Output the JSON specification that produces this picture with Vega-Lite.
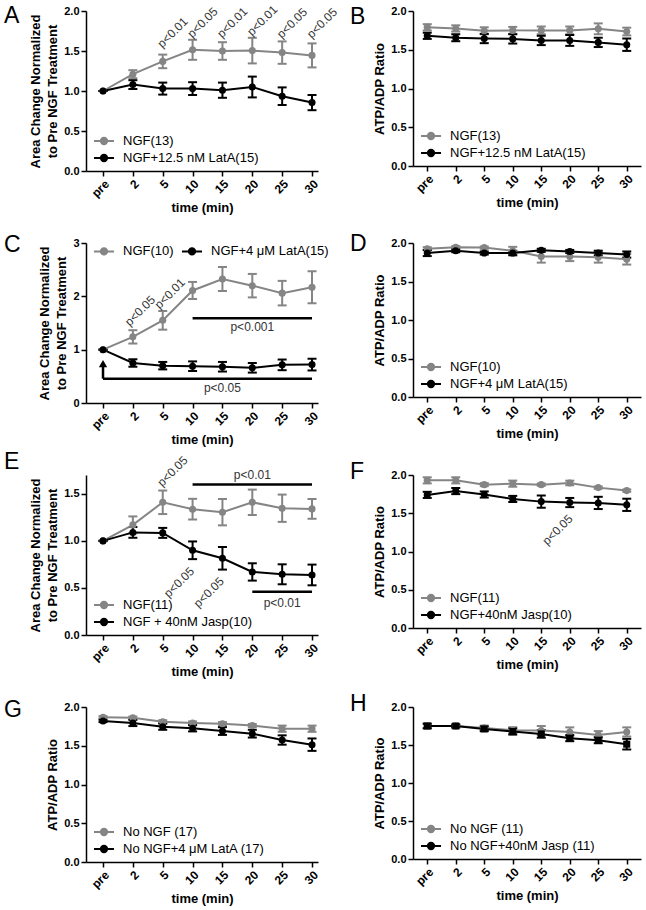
{
"$schema":"https://vega.github.io/schema/vega-lite/v6.json",
"padding":{"left":4,"top":3,"right":4,"bottom":2},
"bounds":"flush",
"columns":2,
"spacing":{"row":72,"column":95},
"resolve":{"scale":{"color":"independent","shape":"independent","x":"independent","y":"independent"},"legend":{"color":"independent","shape":"independent"}},
"config":{
 "font":"Liberation Sans",
 "view":{"stroke":null},
 "axis":{"grid":false,"labelOverlap":false,"domainColor":"#000","domainWidth":1.5,"tickColor":"#000","tickWidth":1.5,"tickSize":5,"labelColor":"#000","labelFontWeight":"bold","labelFontSize":11,"labelPadding":2,"titleColor":"#000","titleFontWeight":"bold","titleFontSize":13,"titlePadding":4,"titleLineHeight":17},
 "axisX":{"labelAngle":-45,"titlePadding":3,"labelFontSize":12},
 "legend":{"labelFontSize":13,"labelColor":"#000","symbolSize":196,"symbolStrokeWidth":2,"symbolOpacity":1,"rowPadding":1,"padding":0,"offset":5,"labelOffset":11,"symbolOffset":5,"labelLimit":300},
 "title":{"fontSize":23,"fontWeight":"normal","color":"#000","anchor":"start","frame":"group","offset":0,"baseline":"alphabetic"},
 "text":{"fontSize":12,"color":"#333"}
},
"datasets":{
"d":[
{"p":"A","s":"NGF(13)","t":"pre","m":1,"e":0},{"p":"A","s":"NGF(13)","t":"2","m":1.21,"e":0.05},{"p":"A","s":"NGF(13)","t":"5","m":1.37,"e":0.085},{"p":"A","s":"NGF(13)","t":"10","m":1.515,"e":0.125},{"p":"A","s":"NGF(13)","t":"15","m":1.5,"e":0.11},{"p":"A","s":"NGF(13)","t":"20","m":1.505,"e":0.16},{"p":"A","s":"NGF(13)","t":"25","m":1.48,"e":0.14},{"p":"A","s":"NGF(13)","t":"30","m":1.445,"e":0.15},
{"p":"A","s":"NGF+12.5 nM LatA(15)","t":"pre","m":1,"e":0},{"p":"A","s":"NGF+12.5 nM LatA(15)","t":"2","m":1.08,"e":0.055},{"p":"A","s":"NGF+12.5 nM LatA(15)","t":"5","m":1.03,"e":0.075},{"p":"A","s":"NGF+12.5 nM LatA(15)","t":"10","m":1.03,"e":0.08},{"p":"A","s":"NGF+12.5 nM LatA(15)","t":"15","m":1.01,"e":0.095},{"p":"A","s":"NGF+12.5 nM LatA(15)","t":"20","m":1.05,"e":0.13},{"p":"A","s":"NGF+12.5 nM LatA(15)","t":"25","m":0.935,"e":0.11},{"p":"A","s":"NGF+12.5 nM LatA(15)","t":"30","m":0.855,"e":0.095},
{"p":"B","s":"NGF(13)","t":"pre","m":1.79,"e":0.04},{"p":"B","s":"NGF(13)","t":"2","m":1.775,"e":0.04},{"p":"B","s":"NGF(13)","t":"5","m":1.745,"e":0.045},{"p":"B","s":"NGF(13)","t":"10","m":1.75,"e":0.045},{"p":"B","s":"NGF(13)","t":"15","m":1.75,"e":0.05},{"p":"B","s":"NGF(13)","t":"20","m":1.75,"e":0.05},{"p":"B","s":"NGF(13)","t":"25","m":1.77,"e":0.07},{"p":"B","s":"NGF(13)","t":"30","m":1.735,"e":0.05},
{"p":"B","s":"NGF+12.5 nM LatA(15)","t":"pre","m":1.68,"e":0.04},{"p":"B","s":"NGF+12.5 nM LatA(15)","t":"2","m":1.655,"e":0.045},{"p":"B","s":"NGF+12.5 nM LatA(15)","t":"5","m":1.645,"e":0.06},{"p":"B","s":"NGF+12.5 nM LatA(15)","t":"10","m":1.64,"e":0.06},{"p":"B","s":"NGF+12.5 nM LatA(15)","t":"15","m":1.62,"e":0.06},{"p":"B","s":"NGF+12.5 nM LatA(15)","t":"20","m":1.62,"e":0.07},{"p":"B","s":"NGF+12.5 nM LatA(15)","t":"25","m":1.595,"e":0.06},{"p":"B","s":"NGF+12.5 nM LatA(15)","t":"30","m":1.565,"e":0.08},
{"p":"C","s":"NGF(10)","t":"pre","m":1,"e":0},{"p":"C","s":"NGF(10)","t":"2","m":1.24,"e":0.125},{"p":"C","s":"NGF(10)","t":"5","m":1.55,"e":0.175},{"p":"C","s":"NGF(10)","t":"10","m":2.11,"e":0.16},{"p":"C","s":"NGF(10)","t":"15","m":2.325,"e":0.225},{"p":"C","s":"NGF(10)","t":"20","m":2.2,"e":0.22},{"p":"C","s":"NGF(10)","t":"25","m":2.06,"e":0.23},{"p":"C","s":"NGF(10)","t":"30","m":2.17,"e":0.3},
{"p":"C","s":"NGF+4 μM LatA(15)","t":"pre","m":1,"e":0},{"p":"C","s":"NGF+4 μM LatA(15)","t":"2","m":0.75,"e":0.07},{"p":"C","s":"NGF+4 μM LatA(15)","t":"5","m":0.7,"e":0.07},{"p":"C","s":"NGF+4 μM LatA(15)","t":"10","m":0.69,"e":0.09},{"p":"C","s":"NGF+4 μM LatA(15)","t":"15","m":0.68,"e":0.09},{"p":"C","s":"NGF+4 μM LatA(15)","t":"20","m":0.66,"e":0.09},{"p":"C","s":"NGF+4 μM LatA(15)","t":"25","m":0.715,"e":0.1},{"p":"C","s":"NGF+4 μM LatA(15)","t":"30","m":0.72,"e":0.11},
{"p":"D","s":"NGF(10)","t":"pre","m":1.925,"e":0.02},{"p":"D","s":"NGF(10)","t":"2","m":1.945,"e":0.015},{"p":"D","s":"NGF(10)","t":"5","m":1.94,"e":0.015},{"p":"D","s":"NGF(10)","t":"10","m":1.9,"e":0.05},{"p":"D","s":"NGF(10)","t":"15","m":1.825,"e":0.08},{"p":"D","s":"NGF(10)","t":"20","m":1.825,"e":0.06},{"p":"D","s":"NGF(10)","t":"25","m":1.815,"e":0.07},{"p":"D","s":"NGF(10)","t":"30","m":1.79,"e":0.07},
{"p":"D","s":"NGF+4 μM LatA(15)","t":"pre","m":1.87,"e":0.04},{"p":"D","s":"NGF+4 μM LatA(15)","t":"2","m":1.9,"e":0.02},{"p":"D","s":"NGF+4 μM LatA(15)","t":"5","m":1.87,"e":0.02},{"p":"D","s":"NGF+4 μM LatA(15)","t":"10","m":1.87,"e":0.03},{"p":"D","s":"NGF+4 μM LatA(15)","t":"15","m":1.905,"e":0.02},{"p":"D","s":"NGF+4 μM LatA(15)","t":"20","m":1.89,"e":0.02},{"p":"D","s":"NGF+4 μM LatA(15)","t":"25","m":1.87,"e":0.03},{"p":"D","s":"NGF+4 μM LatA(15)","t":"30","m":1.85,"e":0.04},
{"p":"E","s":"NGF(11)","t":"pre","m":1,"e":0},{"p":"E","s":"NGF(11)","t":"2","m":1.17,"e":0.09},{"p":"E","s":"NGF(11)","t":"5","m":1.41,"e":0.125},{"p":"E","s":"NGF(11)","t":"10","m":1.337,"e":0.11},{"p":"E","s":"NGF(11)","t":"15","m":1.305,"e":0.14},{"p":"E","s":"NGF(11)","t":"20","m":1.41,"e":0.135},{"p":"E","s":"NGF(11)","t":"25","m":1.347,"e":0.145},{"p":"E","s":"NGF(11)","t":"30","m":1.34,"e":0.105},
{"p":"E","s":"NGF + 40nM Jasp(10)","t":"pre","m":1,"e":0},{"p":"E","s":"NGF + 40nM Jasp(10)","t":"2","m":1.09,"e":0.057},{"p":"E","s":"NGF + 40nM Jasp(10)","t":"5","m":1.085,"e":0.053},{"p":"E","s":"NGF + 40nM Jasp(10)","t":"10","m":0.9,"e":0.094},{"p":"E","s":"NGF + 40nM Jasp(10)","t":"15","m":0.815,"e":0.12},{"p":"E","s":"NGF + 40nM Jasp(10)","t":"20","m":0.67,"e":0.092},{"p":"E","s":"NGF + 40nM Jasp(10)","t":"25","m":0.645,"e":0.106},{"p":"E","s":"NGF + 40nM Jasp(10)","t":"30","m":0.638,"e":0.11},
{"p":"F","s":"NGF(11)","t":"pre","m":1.93,"e":0.04},{"p":"F","s":"NGF(11)","t":"2","m":1.93,"e":0.04},{"p":"F","s":"NGF(11)","t":"5","m":1.874,"e":0.02},{"p":"F","s":"NGF(11)","t":"10","m":1.887,"e":0.04},{"p":"F","s":"NGF(11)","t":"15","m":1.874,"e":0.015},{"p":"F","s":"NGF(11)","t":"20","m":1.896,"e":0.03},{"p":"F","s":"NGF(11)","t":"25","m":1.835,"e":0.015},{"p":"F","s":"NGF(11)","t":"30","m":1.796,"e":0.015},
{"p":"F","s":"NGF+40nM Jasp(10)","t":"pre","m":1.74,"e":0.04},{"p":"F","s":"NGF+40nM Jasp(10)","t":"2","m":1.79,"e":0.04},{"p":"F","s":"NGF+40nM Jasp(10)","t":"5","m":1.745,"e":0.04},{"p":"F","s":"NGF+40nM Jasp(10)","t":"10","m":1.687,"e":0.04},{"p":"F","s":"NGF+40nM Jasp(10)","t":"15","m":1.652,"e":0.08},{"p":"F","s":"NGF+40nM Jasp(10)","t":"20","m":1.64,"e":0.06},{"p":"F","s":"NGF+40nM Jasp(10)","t":"25","m":1.635,"e":0.08},{"p":"F","s":"NGF+40nM Jasp(10)","t":"30","m":1.61,"e":0.08},
{"p":"G","s":"No NGF (17)","t":"pre","m":1.867,"e":0.015},{"p":"G","s":"No NGF (17)","t":"2","m":1.862,"e":0.015},{"p":"G","s":"No NGF (17)","t":"5","m":1.81,"e":0.02},{"p":"G","s":"No NGF (17)","t":"10","m":1.794,"e":0.02},{"p":"G","s":"No NGF (17)","t":"15","m":1.785,"e":0.02},{"p":"G","s":"No NGF (17)","t":"20","m":1.76,"e":0.02},{"p":"G","s":"No NGF (17)","t":"25","m":1.72,"e":0.04},{"p":"G","s":"No NGF (17)","t":"30","m":1.72,"e":0.04},
{"p":"G","s":"No NGF+4 μM LatA (17)","t":"pre","m":1.82,"e":0.015},{"p":"G","s":"No NGF+4 μM LatA (17)","t":"2","m":1.794,"e":0.04},{"p":"G","s":"No NGF+4 μM LatA (17)","t":"5","m":1.746,"e":0.04},{"p":"G","s":"No NGF+4 μM LatA (17)","t":"10","m":1.725,"e":0.04},{"p":"G","s":"No NGF+4 μM LatA (17)","t":"15","m":1.69,"e":0.05},{"p":"G","s":"No NGF+4 μM LatA (17)","t":"20","m":1.656,"e":0.05},{"p":"G","s":"No NGF+4 μM LatA (17)","t":"25","m":1.574,"e":0.06},{"p":"G","s":"No NGF+4 μM LatA (17)","t":"30","m":1.514,"e":0.08},
{"p":"H","s":"No NGF (11)","t":"pre","m":1.751,"e":0.03},{"p":"H","s":"No NGF (11)","t":"2","m":1.751,"e":0.02},{"p":"H","s":"No NGF (11)","t":"5","m":1.725,"e":0.03},{"p":"H","s":"No NGF (11)","t":"10","m":1.694,"e":0.04},{"p":"H","s":"No NGF (11)","t":"15","m":1.69,"e":0.06},{"p":"H","s":"No NGF (11)","t":"20","m":1.672,"e":0.06},{"p":"H","s":"No NGF (11)","t":"25","m":1.633,"e":0.05},{"p":"H","s":"No NGF (11)","t":"30","m":1.672,"e":0.06},
{"p":"H","s":"No NGF+40nM Jasp (11)","t":"pre","m":1.75,"e":0.03},{"p":"H","s":"No NGF+40nM Jasp (11)","t":"2","m":1.75,"e":0.02},{"p":"H","s":"No NGF+40nM Jasp (11)","t":"5","m":1.712,"e":0.03},{"p":"H","s":"No NGF+40nM Jasp (11)","t":"10","m":1.677,"e":0.04},{"p":"H","s":"No NGF+40nM Jasp (11)","t":"15","m":1.646,"e":0.05},{"p":"H","s":"No NGF+40nM Jasp (11)","t":"20","m":1.59,"e":0.04},{"p":"H","s":"No NGF+40nM Jasp (11)","t":"25","m":1.563,"e":0.04},{"p":"H","s":"No NGF+40nM Jasp (11)","t":"30","m":1.511,"e":0.07}
],
"rot":[
{"p":"A","k":"a","t":"5","y":1.73,"txt":"p<0.01"},{"p":"A","k":"a","t":"10","y":1.855,"txt":"p<0.05"},{"p":"A","k":"a","t":"15","y":1.855,"txt":"p<0.01"},{"p":"A","k":"a","t":"20","y":1.88,"txt":"p<0.01"},{"p":"A","k":"a","t":"25","y":1.85,"txt":"p<0.05"},{"p":"A","k":"a","t":"30","y":1.85,"txt":"p<0.05"},
{"p":"C","k":"a","t":"2","y":1.73,"txt":"p<0.05"},{"p":"C","k":"a","t":"5","y":2.05,"txt":"p<0.01"},
{"p":"E","k":"a","t":"5","y":1.74,"txt":"p<0.05"},
{"p":"E","k":"b","t":"5","y":0.56,"txt":"p<0.05"},{"p":"E","k":"b","t":"10","y":0.453,"txt":"p<0.05"},
{"p":"F","k":"b","t":"15","y":1.283,"txt":"p<0.05"}
],
"bars":[
{"p":"C","t":"10","t2":"30","y":1.59},{"p":"C","t":"pre","t2":"30","y":0.456},
{"p":"E","t":"10","t2":"30","y":1.6},{"p":"E","t":"20","t2":"30","y":0.46}
],
"lbl":[
{"p":"C","t":"20","y":1.43,"txt":"p<0.001"},{"p":"C","t":"15","y":0.28,"txt":"p<0.05"},
{"p":"E","t":"20","y":1.7,"txt":"p<0.01"},{"p":"E","t":"25","y":0.337,"txt":"p<0.01"}
],
"arr":[{"p":"C","t":"pre","y":0.456,"y2":0.7}]
},
"concat":[
{"width":232,"height":160,"title":{"text":"A","dx":-82,"dy":29},
 "layer":[
  {"data":{"name":"d"},"transform":[{"filter":"datum.p==='A'"}],
   "encoding":{
    "x":{"field":"t","type":"ordinal","scale":{"type":"point","domain":["pre","2","5","10","15","20","25","30"],"padding":0.385,"align":0.74},"axis":{"title":"time (min)"}},
    "y":{"field":"m","type":"quantitative","scale":{"domain":[0,2],"nice":false},"axis":{"values":[0,0.5,1,1.5,2],"format":".1f","title":["Area Change Normalized","to Pre NGF Treatment"]}},
    "color":{"field":"s","type":"nominal","scale":{"domain":["NGF(13)","NGF+12.5 nM LatA(15)"],"range":["#858585","#000000"]},
     "legend":{"title":null,"orient":"bottom-left","symbolType":"M-1.43,0L1.43,0M0.45,0A0.45,0.45,0,1,1,-0.45,0A0.45,0.45,0,1,1,0.45,0Z"}}
   },
   "layer":[
    {"mark":{"type":"errorbar","ticks":{"size":9,"opacity":1},"rule":{"opacity":1},"thickness":2},"encoding":{"yError":{"field":"e"}}},
    {"mark":{"type":"line","strokeWidth":2},"encoding":{"order":{"value":null}}},
    {"mark":{"type":"point","filled":true,"size":50,"opacity":1}}
   ]},
  {"data":{"name":"rot"},"transform":[{"filter":"datum.p==='A'"}],"mark":{"type":"text","angle":315,"dx":7,"dy":7},"encoding":{"x":{"field":"t","type":"ordinal"},"y":{"field":"y","type":"quantitative","axis":{"values":[0,0.5,1,1.5,2],"format":".1f","title":["Area Change Normalized","to Pre NGF Treatment"]}},"text":{"field":"txt"}}}
 ]},
{"width":228,"height":155,"title":{"text":"B","dx":-63,"dy":28},
 "layer":[
  {"data":{"name":"d"},"transform":[{"filter":"datum.p==='B'"}],
   "encoding":{
    "x":{"field":"t","type":"ordinal","scale":{"type":"point","domain":["pre","2","5","10","15","20","25","30"],"padding":0.5},"axis":{"title":"time (min)"}},
    "y":{"field":"m","type":"quantitative","scale":{"domain":[0,2],"nice":false},"axis":{"values":[0,0.5,1,1.5,2],"format":".1f","title":"ATP/ADP Ratio"}},
    "color":{"field":"s","type":"nominal","scale":{"domain":["NGF(13)","NGF+12.5 nM LatA(15)"],"range":["#858585","#000000"]},
     "legend":{"title":null,"orient":"bottom-left","symbolType":"M-1.43,0L1.43,0M0.45,0A0.45,0.45,0,1,1,-0.45,0A0.45,0.45,0,1,1,0.45,0Z"}}
   },
   "layer":[
    {"mark":{"type":"errorbar","ticks":{"size":9,"opacity":1},"rule":{"opacity":1},"thickness":2},"encoding":{"yError":{"field":"e"}}},
    {"mark":{"type":"line","strokeWidth":2},"encoding":{"order":{"value":null}}},
    {"mark":{"type":"point","filled":true,"size":50,"opacity":1}}
   ]}
 ]},
{"width":232,"height":160,"title":{"text":"C","dx":-82,"dy":24},
 "layer":[
  {"data":{"name":"d"},"transform":[{"filter":"datum.p==='C'"}],
   "encoding":{
    "x":{"field":"t","type":"ordinal","scale":{"type":"point","domain":["pre","2","5","10","15","20","25","30"],"padding":0.385,"align":0.74},"axis":{"title":"time (min)"}},
    "y":{"field":"m","type":"quantitative","scale":{"domain":[0,3],"nice":false},"axis":{"values":[0,1,2,3],"format":"d","title":["Area Change Normalized","to Pre NGF Treatment"]}},
    "color":{"field":"s","type":"nominal","scale":{"domain":["NGF(10)","NGF+4 μM LatA(15)"],"range":["#858585","#000000"]},
     "legend":{"title":null,"orient":"top-left","direction":"horizontal","offset":0,"symbolOffset":10,"columnPadding":0,"symbolType":"M-1.43,0L1.43,0M0.45,0A0.45,0.45,0,1,1,-0.45,0A0.45,0.45,0,1,1,0.45,0Z"}}
   },
   "layer":[
    {"mark":{"type":"errorbar","ticks":{"size":9,"opacity":1},"rule":{"opacity":1},"thickness":2},"encoding":{"yError":{"field":"e"}}},
    {"mark":{"type":"line","strokeWidth":2},"encoding":{"order":{"value":null}}},
    {"mark":{"type":"point","filled":true,"size":50,"opacity":1}}
   ]},
  {"data":{"name":"rot"},"transform":[{"filter":"datum.p==='C'"}],"mark":{"type":"text","angle":315,"dx":5,"dy":5},"encoding":{"x":{"field":"t","type":"ordinal"},"y":{"field":"y","type":"quantitative","axis":{"values":[0,1,2,3],"format":"d","title":["Area Change Normalized","to Pre NGF Treatment"]}},"text":{"field":"txt"}}},
  {"data":{"name":"bars"},"transform":[{"filter":"datum.p==='C'"}],"mark":{"type":"rule","strokeWidth":2.5,"color":"#000"},"encoding":{"x":{"field":"t","type":"ordinal"},"x2":{"field":"t2"},"y":{"field":"y","type":"quantitative","axis":{"values":[0,1,2,3],"format":"d","title":["Area Change Normalized","to Pre NGF Treatment"]}}}},
  {"data":{"name":"lbl"},"transform":[{"filter":"datum.p==='C'"}],"mark":{"type":"text"},"encoding":{"x":{"field":"t","type":"ordinal"},"y":{"field":"y","type":"quantitative","axis":{"values":[0,1,2,3],"format":"d","title":["Area Change Normalized","to Pre NGF Treatment"]}},"text":{"field":"txt"}}},
  {"data":{"name":"arr"},"mark":{"type":"rule","strokeWidth":2.5,"color":"#000"},"encoding":{"x":{"field":"t","type":"ordinal"},"y":{"field":"y","type":"quantitative","axis":{"values":[0,1,2,3],"format":"d","title":["Area Change Normalized","to Pre NGF Treatment"]}},"y2":{"field":"y2"}}},
  {"data":{"name":"arr"},"mark":{"type":"point","shape":"triangle-up","filled":true,"size":70,"color":"#000","opacity":1,"yOffset":-2},"encoding":{"x":{"field":"t","type":"ordinal"},"y":{"field":"y2","type":"quantitative","axis":{"values":[0,1,2,3],"format":"d","title":["Area Change Normalized","to Pre NGF Treatment"]}}}}
 ]},
{"width":228,"height":154,"title":{"text":"D","dx":-63,"dy":23},
 "layer":[
  {"data":{"name":"d"},"transform":[{"filter":"datum.p==='D'"}],
   "encoding":{
    "x":{"field":"t","type":"ordinal","scale":{"type":"point","domain":["pre","2","5","10","15","20","25","30"],"padding":0.5},"axis":{"title":"time (min)"}},
    "y":{"field":"m","type":"quantitative","scale":{"domain":[0,2],"nice":false},"axis":{"values":[0,0.5,1,1.5,2],"format":".1f","title":"ATP/ADP Ratio"}},
    "color":{"field":"s","type":"nominal","scale":{"domain":["NGF(10)","NGF+4 μM LatA(15)"],"range":["#858585","#000000"]},
     "legend":{"title":null,"orient":"bottom-left","symbolType":"M-1.43,0L1.43,0M0.45,0A0.45,0.45,0,1,1,-0.45,0A0.45,0.45,0,1,1,0.45,0Z"}}
   },
   "layer":[
    {"mark":{"type":"errorbar","ticks":{"size":9,"opacity":1},"rule":{"opacity":1},"thickness":2},"encoding":{"yError":{"field":"e"}}},
    {"mark":{"type":"line","strokeWidth":2},"encoding":{"order":{"value":null}}},
    {"mark":{"type":"point","filled":true,"size":50,"opacity":1}}
   ]}
 ]},
{"width":232,"height":160,"title":{"text":"E","dx":-82,"dy":24},
 "layer":[
  {"data":{"name":"d"},"transform":[{"filter":"datum.p==='E'"}],
   "encoding":{
    "x":{"field":"t","type":"ordinal","scale":{"type":"point","domain":["pre","2","5","10","15","20","25","30"],"padding":0.385,"align":0.74},"axis":{"title":"time (min)"}},
    "y":{"field":"m","type":"quantitative","scale":{"domain":[0,1.7],"nice":false},"axis":{"values":[0,0.5,1,1.5],"format":".1f","title":["Area Change Normalized","to Pre NGF Treatment"]}},
    "color":{"field":"s","type":"nominal","scale":{"domain":["NGF(11)","NGF + 40nM Jasp(10)"],"range":["#858585","#000000"]},
     "legend":{"title":null,"orient":"bottom-left","symbolType":"M-1.43,0L1.43,0M0.45,0A0.45,0.45,0,1,1,-0.45,0A0.45,0.45,0,1,1,0.45,0Z"}}
   },
   "layer":[
    {"mark":{"type":"errorbar","ticks":{"size":9,"opacity":1},"rule":{"opacity":1},"thickness":2},"encoding":{"yError":{"field":"e"}}},
    {"mark":{"type":"line","strokeWidth":2},"encoding":{"order":{"value":null}}},
    {"mark":{"type":"point","filled":true,"size":50,"opacity":1}}
   ]},
  {"data":{"name":"rot"},"transform":[{"filter":"datum.p==='E' && datum.k==='a'"}],"mark":{"type":"text","angle":315,"dx":7,"dy":7},"encoding":{"x":{"field":"t","type":"ordinal"},"y":{"field":"y","type":"quantitative","axis":{"values":[0,0.5,1,1.5],"format":".1f","title":["Area Change Normalized","to Pre NGF Treatment"]}},"text":{"field":"txt"}}},
  {"data":{"name":"rot"},"transform":[{"filter":"datum.p==='E' && datum.k==='b'"}],"mark":{"type":"text","angle":315,"dx":11.5,"dy":11.5},"encoding":{"x":{"field":"t","type":"ordinal"},"y":{"field":"y","type":"quantitative","axis":{"values":[0,0.5,1,1.5],"format":".1f","title":["Area Change Normalized","to Pre NGF Treatment"]}},"text":{"field":"txt"}}},
  {"data":{"name":"bars"},"transform":[{"filter":"datum.p==='E'"}],"mark":{"type":"rule","strokeWidth":2.5,"color":"#000"},"encoding":{"x":{"field":"t","type":"ordinal"},"x2":{"field":"t2"},"y":{"field":"y","type":"quantitative","axis":{"values":[0,0.5,1,1.5],"format":".1f","title":["Area Change Normalized","to Pre NGF Treatment"]}}}},
  {"data":{"name":"lbl"},"transform":[{"filter":"datum.p==='E'"}],"mark":{"type":"text"},"encoding":{"x":{"field":"t","type":"ordinal"},"y":{"field":"y","type":"quantitative","axis":{"values":[0,0.5,1,1.5],"format":".1f","title":["Area Change Normalized","to Pre NGF Treatment"]}},"text":{"field":"txt"}}}
 ]},
{"width":228,"height":153,"title":{"text":"F","dx":-63,"dy":19},
 "layer":[
  {"data":{"name":"d"},"transform":[{"filter":"datum.p==='F'"}],
   "encoding":{
    "x":{"field":"t","type":"ordinal","scale":{"type":"point","domain":["pre","2","5","10","15","20","25","30"],"padding":0.5},"axis":{"title":"time (min)"}},
    "y":{"field":"m","type":"quantitative","scale":{"domain":[0,2],"nice":false},"axis":{"values":[0,0.5,1,1.5,2],"format":".1f","title":"ATP/ADP Ratio"}},
    "color":{"field":"s","type":"nominal","scale":{"domain":["NGF(11)","NGF+40nM Jasp(10)"],"range":["#858585","#000000"]},
     "legend":{"title":null,"orient":"bottom-left","symbolType":"M-1.43,0L1.43,0M0.45,0A0.45,0.45,0,1,1,-0.45,0A0.45,0.45,0,1,1,0.45,0Z"}}
   },
   "layer":[
    {"mark":{"type":"errorbar","ticks":{"size":9,"opacity":1},"rule":{"opacity":1},"thickness":2},"encoding":{"yError":{"field":"e"}}},
    {"mark":{"type":"line","strokeWidth":2},"encoding":{"order":{"value":null}}},
    {"mark":{"type":"point","filled":true,"size":50,"opacity":1}}
   ]},
  {"data":{"name":"rot"},"transform":[{"filter":"datum.p==='F'"}],"mark":{"type":"text","angle":315,"dx":11.5,"dy":11.5},"encoding":{"x":{"field":"t","type":"ordinal"},"y":{"field":"y","type":"quantitative","axis":{"values":[0,0.5,1,1.5,2],"format":".1f","title":"ATP/ADP Ratio"}},"text":{"field":"txt"}}}
 ]},
{"width":232,"height":155,"title":{"text":"G","dx":-82,"dy":25},
 "layer":[
  {"data":{"name":"d"},"transform":[{"filter":"datum.p==='G'"}],
   "encoding":{
    "x":{"field":"t","type":"ordinal","scale":{"type":"point","domain":["pre","2","5","10","15","20","25","30"],"padding":0.385,"align":0.74},"axis":{"title":"time (min)"}},
    "y":{"field":"m","type":"quantitative","scale":{"domain":[0,2],"nice":false},"axis":{"values":[0,0.5,1,1.5,2],"format":".1f","title":"ATP/ADP Ratio"}},
    "color":{"field":"s","type":"nominal","scale":{"domain":["No NGF (17)","No NGF+4 μM LatA (17)"],"range":["#858585","#000000"]},
     "legend":{"title":null,"orient":"bottom-left","symbolType":"M-1.43,0L1.43,0M0.45,0A0.45,0.45,0,1,1,-0.45,0A0.45,0.45,0,1,1,0.45,0Z"}}
   },
   "layer":[
    {"mark":{"type":"errorbar","ticks":{"size":9,"opacity":1},"rule":{"opacity":1},"thickness":2},"encoding":{"yError":{"field":"e"}}},
    {"mark":{"type":"line","strokeWidth":2},"encoding":{"order":{"value":null}}},
    {"mark":{"type":"point","filled":true,"size":50,"opacity":1}}
   ]}
 ]},
{"width":228,"height":152,"title":{"text":"H","dx":-63,"dy":19},
 "layer":[
  {"data":{"name":"d"},"transform":[{"filter":"datum.p==='H'"}],
   "encoding":{
    "x":{"field":"t","type":"ordinal","scale":{"type":"point","domain":["pre","2","5","10","15","20","25","30"],"padding":0.5},"axis":{"title":"time (min)"}},
    "y":{"field":"m","type":"quantitative","scale":{"domain":[0,2],"nice":false},"axis":{"values":[0,0.5,1,1.5,2],"format":".1f","title":"ATP/ADP Ratio"}},
    "color":{"field":"s","type":"nominal","scale":{"domain":["No NGF (11)","No NGF+40nM Jasp (11)"],"range":["#858585","#000000"]},
     "legend":{"title":null,"orient":"bottom-left","symbolType":"M-1.43,0L1.43,0M0.45,0A0.45,0.45,0,1,1,-0.45,0A0.45,0.45,0,1,1,0.45,0Z"}}
   },
   "layer":[
    {"mark":{"type":"errorbar","ticks":{"size":9,"opacity":1},"rule":{"opacity":1},"thickness":2},"encoding":{"yError":{"field":"e"}}},
    {"mark":{"type":"line","strokeWidth":2},"encoding":{"order":{"value":null}}},
    {"mark":{"type":"point","filled":true,"size":50,"opacity":1},"encoding":{"shape":{"condition":{"test":"datum.s==='No NGF+40nM Jasp (11)'","value":"square"},"value":"circle"}}}
   ]}
 ]}
]
}
